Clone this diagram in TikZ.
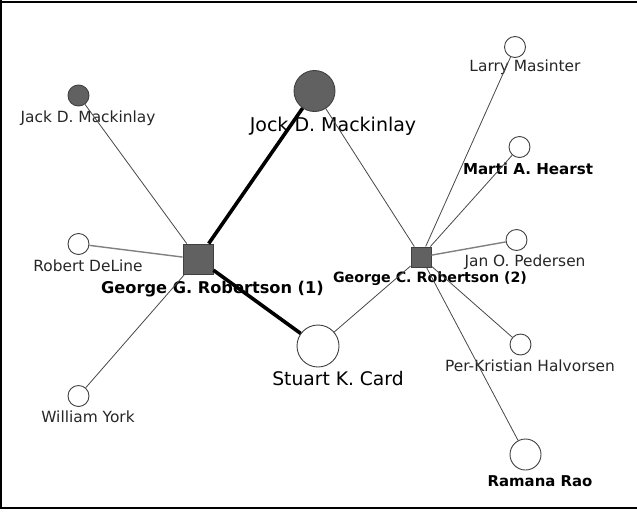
\documentclass[tikz,border=0pt]{standalone}
\usepackage{fontspec}
\setmainfont{DejaVu Sans}
\usetikzlibrary{positioning}

\tikzset{
  person/.style={circle,draw=black!75,fill=white,line width=0.9pt,inner sep=0pt,minimum size=#1},
  hub/.style={rectangle,draw=black!75,fill=black!62,line width=0.9pt,inner sep=0pt,minimum size=#1},
  tag/.style={anchor=base,inner sep=0pt,text=black!85,font=\fontsize{15.4}{18}\selectfont},
  bigtag/.style={anchor=base,inner sep=0pt,font=\fontsize{19}{22}\selectfont},
  boldtag/.style={anchor=base,inner sep=0pt,font=\bfseries\fontsize{#1}{18}\selectfont},
  link/.style={draw=black!72,line width=0.8pt},
  paelink/.style={draw=black!50,line width=1.4pt},
  strong/.style={draw=black,line width=3.6pt}
}

\begin{document}
\begin{tikzpicture}[x=1pt,y=-1pt]
\useasboundingbox (0,0) rectangle (637,512);
\draw[line width=2pt] (0,1.5) -- (637,1.5);
\draw[line width=2.5pt] (1,0) -- (1,508);
\draw[line width=2.5pt] (0,508) -- (637,508);

% the two co-authors called Robertson
\node [hub=30pt] (g1) at (198,259) {};
\node [hub=20pt] (g2) at (421,257) {};
\node [boldtag=16.2] (g1l) at (212.5,293) {George G. Robertson (1)};
\node [boldtag=14.2] (g2l) at (430,282) {George C. Robertson (2)};

% shared neighbours
\node [person=41pt,fill=black!62] (jock) at (314.5,91) {};
\node [bigtag] (jockl) at (333,131) {Jock D. Mackinlay};
\node [person=42pt] (card) at (318,346) {};
\node [bigtag,font=\fontsize{18.7}{22}\selectfont] (cardl) at (338,385) {Stuart K. Card};

% neighbours of (1)
\node [person=21pt,fill=black!62] (jack) at (78.5,95.5) {};
\node [tag] (jackl) at (88,122) {Jack D. Mackinlay};
\def\lefts{deline/244/271/{Robert DeLine},york/396/422/{William York}}
\foreach \i / \y / \b / \element in \lefts {
  \node [person=21pt] (\i) at (78.5,\y) {};
  \node [tag] (\i l) at (88,\b) {\element};
}

% neighbours of (2)
\def\rights{masinter/515/47/525/71/{Larry Masinter},pedersen/516.5/240/525/266/{Jan O. Pedersen},halvorsen/520.5/344.5/530/371/{Per-Kristian Halvorsen}}
\foreach \i / \x / \y / \lx / \b / \element in \rights {
  \node [person=21pt] (\i) at (\x,\y) {};
  \node [tag] (\i l) at (\lx,\b) {\element};
}
\node [person=21pt] (hearst) at (519.5,147) {};
\node [boldtag=15.1] (hearstl) at (528,174) {Marti A. Hearst};
\node [person=31pt] (rao) at (525.5,454.5) {};
\node [boldtag=14.9] (raol) at (540,486) {Ramana Rao};

\draw [strong] (g1) -- (jock);
\draw [strong] (g1) -- (card);
\draw [link] (g1) -- (jack);
\draw [paelink] (g1) -- (deline);
\draw [link] (g1) -- (york);

\draw [link] (g2) -- (jock);
\draw [link] (g2) -- (card);
\draw [link] (g2) -- (masinter);
\draw [link] (g2) -- (hearst);
\draw [paelink] (g2) -- (pedersen);
\draw [link] (g2) -- (halvorsen);
\draw [link] (g2) -- (rao);

\end{tikzpicture}
\end{document}
